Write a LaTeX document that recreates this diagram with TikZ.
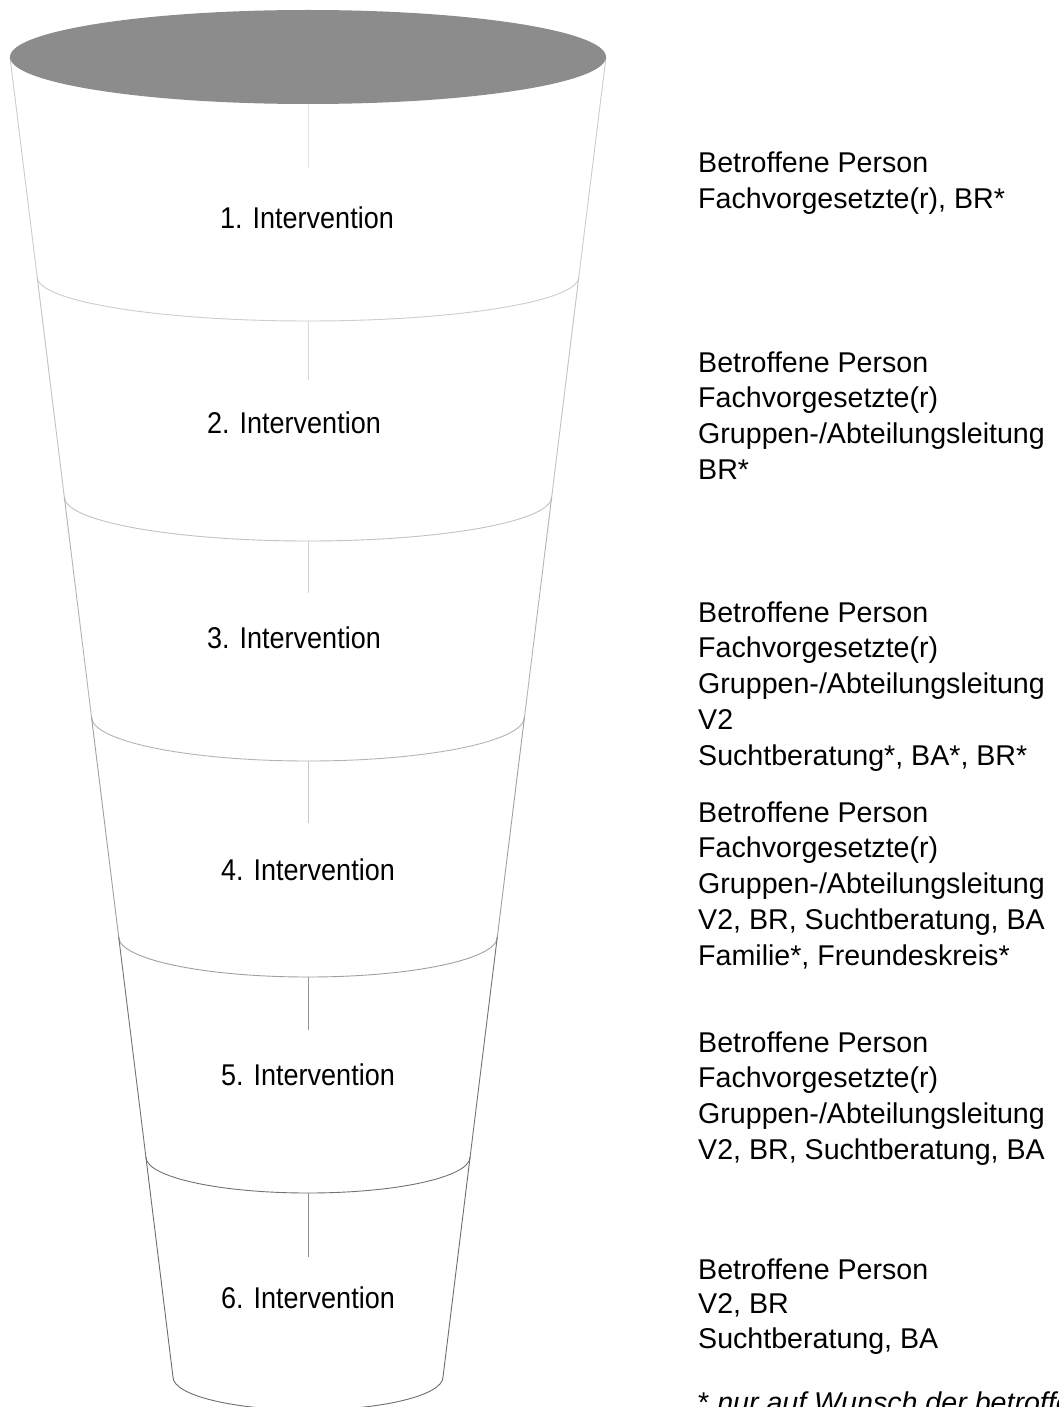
\documentclass[tikz,border=0pt]{standalone}
\usepackage{fontspec}
\setmainfont{Liberation Sans}
\newfontfamily\labfont[FakeStretch=0.9]{Liberation Sans}
\definecolor{topfill}{RGB}{140,140,140}
\definecolor{lnA}{RGB}{205,205,205}
\definecolor{lnB}{RGB}{195,195,195}
\definecolor{lnC}{RGB}{180,180,180}
\definecolor{lnD}{RGB}{160,160,160}
\definecolor{lnE}{RGB}{115,115,115}
\definecolor{lnF}{RGB}{110,110,110}
\tikzset{
  rtext/.style={anchor=base west, inner sep=0pt, font=\fontsize{28.6}{34}\selectfont},
  ltext/.style={anchor=base, inner sep=0pt, font=\labfont\fontsize{30}{34}\selectfont},
  seg/.style={line width=0.9pt, line join=round},
  axisln/.style={line width=0.9pt}
}
\begin{document}
\begin{tikzpicture}[x=1pt,y=-1pt]
\useasboundingbox (0,0) rectangle (1058,1407);
\fill[white] (0,0) rectangle (1058,1407);

% segments: left top -> left bottom, lower half arc, right top
\draw[seg, lnA] (10,57) -- (37.2,277) arc[start angle=180, end angle=0, x radius=270.8, y radius=44] -- (606,57);
\draw[seg, lnB] (37.2,277) -- (64.3,497) arc[start angle=180, end angle=0, x radius=243.7, y radius=44] -- (578.8,277);
\draw[seg, lnC] (64.3,497) -- (91.5,717) arc[start angle=180, end angle=0, x radius=216.5, y radius=44] -- (551.7,497);
\draw[seg, lnD] (91.5,717) -- (118.7,937) arc[start angle=180, end angle=0, x radius=189.3, y radius=40] -- (524.5,717);
\draw[seg, lnE] (118.7,937) -- (145.9,1157) arc[start angle=180, end angle=0, x radius=162.1, y radius=36] -- (497.3,937);
\draw[seg, lnF] (145.9,1157) -- (173,1377) arc[start angle=180, end angle=0, x radius=135, y radius=33] -- (470.1,1157);

% top ellipse
\fill[topfill] (308,57) ellipse[x radius=298, y radius=47];

% centre lines
\coordinate (v1a) at (308,104); \coordinate (v1b) at (308,168);
\coordinate (v2a) at (308,321); \coordinate (v2b) at (308,380);
\coordinate (v3a) at (308,541); \coordinate (v3b) at (308,593);
\coordinate (v4a) at (308,761); \coordinate (v4b) at (308,823);
\coordinate (v5a) at (308,977); \coordinate (v5b) at (308,1030);
\coordinate (v6a) at (308,1193); \coordinate (v6b) at (308,1257);
\draw[axisln, color={rgb,255:red,225;green,225;blue,225}] (v1a) -- (v1b);
\draw[axisln, color={rgb,255:red,215;green,215;blue,215}] (v2a) -- (v2b);
\draw[axisln, color={rgb,255:red,210;green,210;blue,210}] (v3a) -- (v3b);
\draw[axisln, color={rgb,255:red,200;green,200;blue,200}] (v4a) -- (v4b);
\draw[axisln, color={rgb,255:red,150;green,150;blue,150}] (v5a) -- (v5b);
\draw[axisln, color={rgb,255:red,140;green,140;blue,140}] (v6a) -- (v6b);

% left labels
\node[ltext] (i1) at (307,228) {1. Intervention};
\node[ltext] (i2) at (294,433) {2. Intervention};
\node[ltext] (i3) at (294,648) {3. Intervention};
\node[ltext] (i4) at (308,880) {4. Intervention};
\node[ltext] (i5) at (308,1085) {5. Intervention};
\node[ltext] (i6) at (308,1308) {6. Intervention};

% right texts
\node[rtext] (a1) at (698,172) {Betroffene Person};
\node[rtext] (a2) at (698,208) {Fachvorgesetzte(r), BR*};

\node[rtext] (b1) at (698,372) {Betroffene Person};
\node[rtext] (b2) at (698,407.5) {Fachvorgesetzte(r)};
\node[rtext] (b3) at (698,443) {Gruppen-/Abteilungsleitung};
\node[rtext] (b4) at (698,479) {BR*};

\node[rtext] (c1) at (698,622) {Betroffene Person};
\node[rtext] (c2) at (698,657) {Fachvorgesetzte(r)};
\node[rtext] (c3) at (698,693) {Gruppen-/Abteilungsleitung};
\node[rtext] (c4) at (698,729) {V2};
\node[rtext] (c5) at (698,765) {Suchtberatung*, BA*, BR*};

\node[rtext] (d1) at (698,822) {Betroffene Person};
\node[rtext] (d2) at (698,857) {Fachvorgesetzte(r)};
\node[rtext] (d3) at (698,893) {Gruppen-/Abteilungsleitung};
\node[rtext] (d4) at (698,929) {V2, BR, Suchtberatung, BA};
\node[rtext] (d5) at (698,965) {Familie*, Freundeskreis*};

\node[rtext] (e1) at (698,1052) {Betroffene Person};
\node[rtext] (e2) at (698,1087) {Fachvorgesetzte(r)};
\node[rtext] (e3) at (698,1123) {Gruppen-/Abteilungsleitung};
\node[rtext] (e4) at (698,1159) {V2, BR, Suchtberatung, BA};

\node[rtext] (f1) at (698,1279) {Betroffene Person};
\node[rtext] (f2) at (698,1313) {V2, BR};
\node[rtext] (f3) at (698,1348) {Suchtberatung, BA};

\begin{scope}
\clip (0,0) rectangle (1058,1407);
\node[rtext] (fn) at (698,1412) {* \textit{nur auf Wunsch der betroffenen Person}};
\end{scope}
\end{tikzpicture}
\end{document}
